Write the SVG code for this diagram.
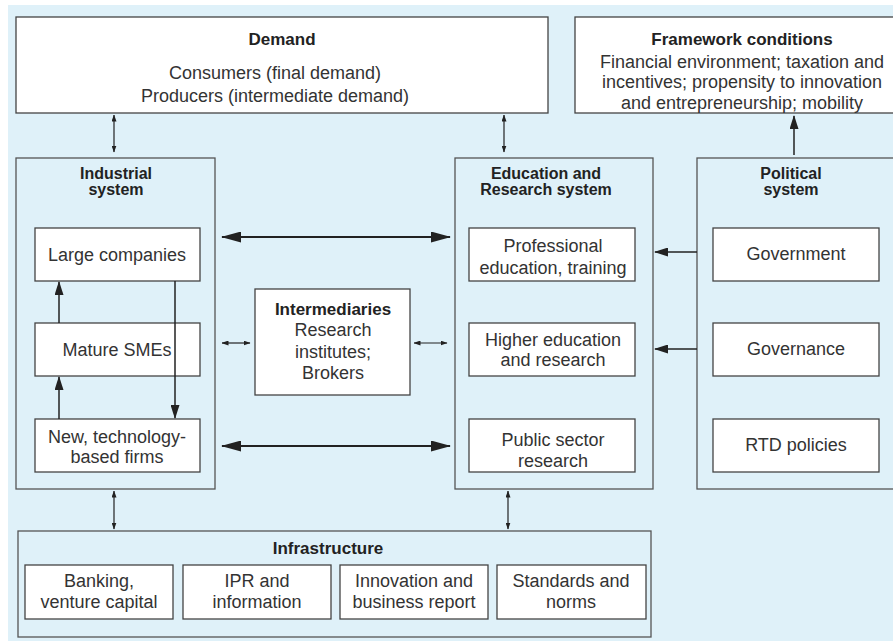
<svg xmlns="http://www.w3.org/2000/svg" width="893" height="643" viewBox="0 0 893 643">
<style>
.bg{fill:#dff1f9}
.box{fill:#ffffff;stroke:#444;stroke-width:1.3}
.grp{fill:none;stroke:#555;stroke-width:1.3}
.t{font-family:"Liberation Sans",Arial,sans-serif;font-size:18px;fill:#333;text-anchor:middle}
.b{font-family:"Liberation Sans",Arial,sans-serif;font-size:17px;font-weight:bold;fill:#222;text-anchor:middle}
.h{font-family:"Liberation Sans",Arial,sans-serif;font-size:16px;font-weight:bold;fill:#222;text-anchor:middle}
.ln{stroke:#222;fill:none}
</style>
<defs>
<marker id="big" markerUnits="userSpaceOnUse" markerWidth="20" markerHeight="11" refX="19" refY="5.5" orient="auto-start-reverse"><path d="M0,0 L20,5.5 L0,11 z" fill="#222"/></marker>
<marker id="med" markerUnits="userSpaceOnUse" markerWidth="14" markerHeight="9" refX="13" refY="4.5" orient="auto-start-reverse"><path d="M0,0 L14,4.5 L0,9 z" fill="#222"/></marker>
<marker id="sm" markerUnits="userSpaceOnUse" markerWidth="7" markerHeight="5" refX="6.5" refY="2.5" orient="auto-start-reverse"><path d="M0,0 L7,2.5 L0,5 z" fill="#222"/></marker>
</defs>
<rect class="bg" x="8" y="5" width="890" height="636"/>

<g id="demand">
<rect class="box" x="16" y="17" width="532" height="96"/>
<text class="b" x="282" y="45">Demand</text>
<text class="t" x="275" y="79">Consumers (final demand)</text>
<text class="t" x="275" y="102">Producers (intermediate demand)</text>
</g>

<g id="framework">
<rect class="box" x="575" y="17" width="330" height="96"/>
<text class="b" x="742" y="45">Framework conditions</text>
<text class="t" x="742" y="68">Financial environment; taxation and</text>
<text class="t" x="742" y="88">incentives; propensity to innovation</text>
<text class="t" x="742" y="109">and entrepreneurship; mobility</text>
</g>

<g id="industrial">
<rect class="grp" x="16" y="158" width="199" height="331"/>
<text class="h" x="116" y="179">Industrial</text>
<text class="h" x="116" y="195">system</text>
</g>
<g id="large">
<rect class="box" x="35" y="228" width="165" height="53"/>
<text class="t" x="117" y="261">Large companies</text>
</g>
<g id="mature">
<rect class="box" x="35" y="323" width="165" height="53"/>
<text class="t" x="117" y="356">Mature SMEs</text>
</g>
<g id="newtech">
<rect class="box" x="35" y="419" width="165" height="53"/>
<text class="t" x="117" y="443">New, technology-</text>
<text class="t" x="117" y="463">based firms</text>
</g>

<g id="intermediaries">
<rect class="box" x="255" y="289" width="155" height="106"/>
<text class="b" x="333" y="315">Intermediaries</text>
<text class="t" x="333" y="336">Research</text>
<text class="t" x="333" y="358">institutes;</text>
<text class="t" x="333" y="379">Brokers</text>
</g>

<g id="education">
<rect class="grp" x="455" y="158" width="198" height="331"/>
<text class="h" x="546" y="179">Education and</text>
<text class="h" x="546" y="195">Research system</text>
</g>
<g id="professional">
<rect class="box" x="469" y="228" width="166" height="53"/>
<text class="t" x="553" y="252">Professional</text>
<text class="t" x="553" y="274">education, training</text>
</g>
<g id="higher">
<rect class="box" x="469" y="323" width="166" height="53"/>
<text class="t" x="553" y="346">Higher education</text>
<text class="t" x="553" y="366">and research</text>
</g>
<g id="public">
<rect class="box" x="469" y="419" width="166" height="53"/>
<text class="t" x="553" y="446">Public sector</text>
<text class="t" x="553" y="467">research</text>
</g>

<g id="political">
<rect class="grp" x="697" y="158" width="210" height="331"/>
<text class="h" x="791" y="179">Political</text>
<text class="h" x="791" y="195">system</text>
</g>
<g id="government">
<rect class="box" x="713" y="228" width="166" height="53"/>
<text class="t" x="796" y="260">Government</text>
</g>
<g id="governance">
<rect class="box" x="713" y="323" width="166" height="53"/>
<text class="t" x="796" y="355">Governance</text>
</g>
<g id="rtd">
<rect class="box" x="713" y="419" width="166" height="53"/>
<text class="t" x="796" y="451">RTD policies</text>
</g>

<g id="infrastructure">
<rect class="grp" x="18" y="531" width="633" height="106"/>
<text class="b" x="328" y="554">Infrastructure</text>
</g>
<g id="banking">
<rect class="box" x="25" y="565" width="148" height="54"/>
<text class="t" x="99" y="587">Banking,</text>
<text class="t" x="99" y="608">venture capital</text>
</g>
<g id="ipr">
<rect class="box" x="183" y="565" width="148" height="54"/>
<text class="t" x="257" y="587">IPR and</text>
<text class="t" x="257" y="608">information</text>
</g>
<g id="innovation">
<rect class="box" x="340" y="565" width="148" height="54"/>
<text class="t" x="414" y="587">Innovation and</text>
<text class="t" x="414" y="608">business report</text>
</g>
<g id="standards">
<rect class="box" x="497" y="565" width="149" height="54"/>
<text class="t" x="571" y="587">Standards and</text>
<text class="t" x="571" y="608">norms</text>
</g>

<g id="connectors">
<line class="ln" stroke-width="1.2" x1="114" y1="115" x2="114" y2="152" marker-start="url(#sm)" marker-end="url(#sm)"/>
<line class="ln" stroke-width="1.2" x1="504" y1="115" x2="504" y2="152" marker-start="url(#sm)" marker-end="url(#sm)"/>
<line class="ln" stroke-width="1.5" x1="794" y1="155" x2="794" y2="116" marker-end="url(#med)"/>
<line class="ln" stroke-width="2" x1="222" y1="237" x2="450" y2="237" marker-start="url(#big)" marker-end="url(#big)"/>
<line class="ln" stroke-width="2" x1="222" y1="446" x2="450" y2="446" marker-start="url(#big)" marker-end="url(#big)"/>
<line class="ln" stroke-width="1.2" x1="222" y1="343" x2="250" y2="343" marker-start="url(#sm)" marker-end="url(#sm)"/>
<line class="ln" stroke-width="1.2" x1="414" y1="343" x2="447" y2="343" marker-start="url(#sm)" marker-end="url(#sm)"/>
<line class="ln" stroke-width="1.5" x1="59" y1="323" x2="59" y2="282" marker-end="url(#med)"/>
<line class="ln" stroke-width="1.5" x1="59" y1="419" x2="59" y2="377" marker-end="url(#med)"/>
<line class="ln" stroke-width="1.5" x1="175" y1="281" x2="175" y2="418" marker-end="url(#med)"/>
<line class="ln" stroke-width="1.5" x1="697" y1="252" x2="655" y2="252" marker-end="url(#med)"/>
<line class="ln" stroke-width="1.5" x1="697" y1="349" x2="655" y2="349" marker-end="url(#med)"/>
<line class="ln" stroke-width="1.2" x1="114" y1="491" x2="114" y2="529" marker-start="url(#sm)" marker-end="url(#sm)"/>
<line class="ln" stroke-width="1.2" x1="508" y1="491" x2="508" y2="529" marker-start="url(#sm)" marker-end="url(#sm)"/>
</g>
</svg>
